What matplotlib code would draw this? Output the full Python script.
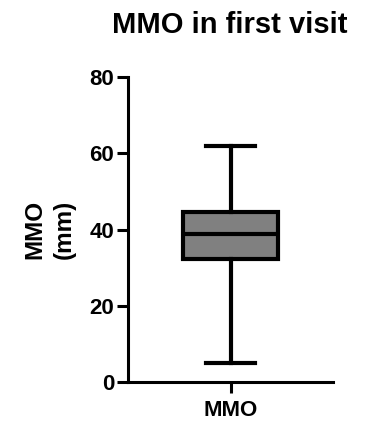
import matplotlib
matplotlib.use("Agg")
import matplotlib.pyplot as plt

categories = ["MMO"]
whislo = [5.0]
q1 = [32.3]
med = [38.8]
q3 = [44.5]
whishi = [62.0]

plt.rcParams['font.family'] = ['Liberation Sans', 'DejaVu Sans']
plt.rcParams['font.weight'] = 'bold'

fig = plt.figure(figsize=(3.66, 4.21), dpi=100)
ax = fig.add_axes([0.35, 0.0926, 0.56, 0.7244])

stats = []
for i, c in enumerate(categories):
    stats.append(dict(label=c, whislo=whislo[i], q1=q1[i], med=med[i], q3=q3[i], whishi=whishi[i], fliers=[]))

lw = 3.0
ax.bxp(stats, positions=[1], widths=0.46, capwidths=0.24, patch_artist=True, showfliers=False,
       boxprops=dict(facecolor='#808080', edgecolor='black', linewidth=lw),
       medianprops=dict(color='black', linewidth=lw),
       whiskerprops=dict(color='black', linewidth=lw),
       capprops=dict(color='black', linewidth=lw))

ax.set_xlim(0.5, 1.5)
ax.set_ylim(0, 80)
ax.set_yticks([0, 20, 40, 60, 80])
for s in ['top', 'right']:
    ax.spines[s].set_visible(False)
for s in ['left', 'bottom']:
    ax.spines[s].set_linewidth(2.2)
ax.tick_params(axis='both', width=2.2, length=8, labelsize=16)
ax.tick_params(axis='y', pad=2)
ax.tick_params(axis='x', pad=5)
for lab in ax.get_xticklabels() + ax.get_yticklabels():
    lab.set_fontweight('bold')
ax.set_ylabel("MMO\n(mm)", fontsize=17.5, fontweight='bold', labelpad=10, linespacing=1.35)
fig.text(0.628, 0.94, "MMO in first visit", ha='center', va='center', fontsize=21, fontweight='bold')

fig.savefig("out.png", dpi=100)
